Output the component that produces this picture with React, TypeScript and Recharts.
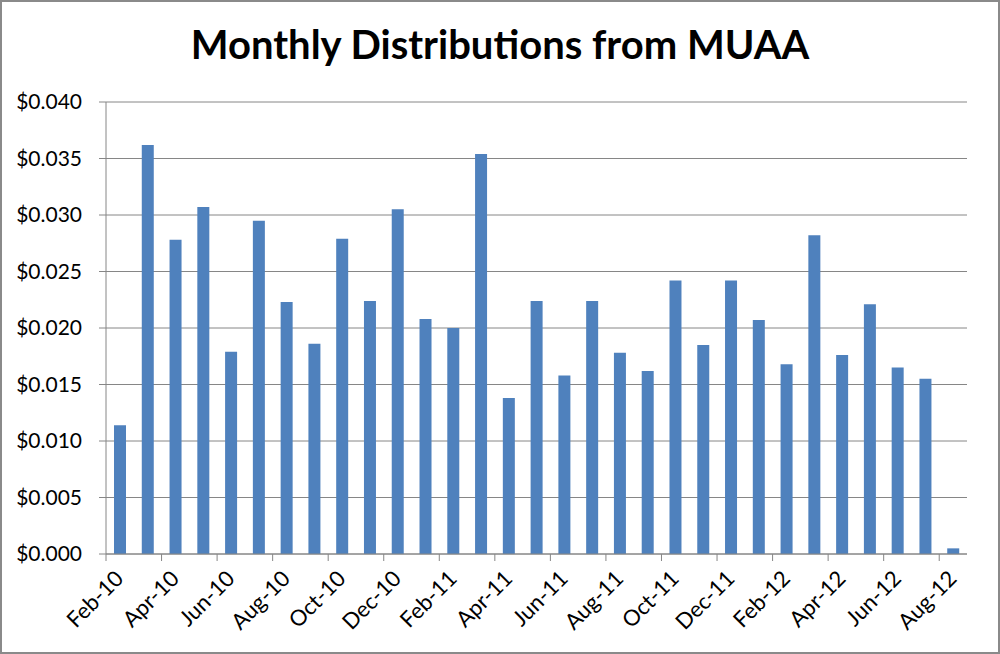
import React from 'react';
import { BarChart, Bar, XAxis, YAxis, CartesianGrid } from 'recharts';

const months = [
  'Feb-10', 'Mar-10', 'Apr-10', 'May-10', 'Jun-10', 'Jul-10', 'Aug-10', 'Sep-10', 'Oct-10', 'Nov-10', 'Dec-10',
  'Jan-11', 'Feb-11', 'Mar-11', 'Apr-11', 'May-11', 'Jun-11', 'Jul-11', 'Aug-11', 'Sep-11', 'Oct-11', 'Nov-11', 'Dec-11',
  'Jan-12', 'Feb-12', 'Mar-12', 'Apr-12', 'May-12', 'Jun-12', 'Jul-12', 'Aug-12',
];

const distributions = [
  0.0114, 0.0362, 0.0278, 0.0307, 0.0179, 0.0295, 0.0223, 0.0186, 0.0279, 0.0224, 0.0305,
  0.0208, 0.0200, 0.0354, 0.0138, 0.0224, 0.0158, 0.0224, 0.0178, 0.0162, 0.0242, 0.0185, 0.0242,
  0.0207, 0.0168, 0.0282, 0.0176, 0.0221, 0.0165, 0.0155, 0.0005,
];

const yTicks = [0, 0.005, 0.01, 0.015, 0.02, 0.025, 0.03, 0.035, 0.04];

const data = months.map((month, i) => ({ month, value: distributions[i] }));

const W = 1000;
const H = 654;
const margin = { top: 102, right: 33, left: 0, bottom: 0 };
const Y_AXIS_W = 106;
const plotW = W - Y_AXIS_W - margin.right;
const band = plotW / months.length;

const FONT = 'Lato, "Open Sans", sans-serif';
const GRID = '#868686';

const MonthTick = (props: any) => {
  const { x, y, payload } = props;
  const tx = x + 5;
  const ty = y + 26;
  return (
    <g>
      <line x1={x - band / 2} x2={x - band / 2} y1={y} y2={y + 7} stroke={GRID} />
      <text
        x={tx}
        y={ty}
        textAnchor="end"
        transform={`rotate(-45, ${tx}, ${ty})`}
        fontSize={22}
        fill="#000"
        fontFamily={FONT}
      >
        {payload.value}
      </text>
    </g>
  );
};

export default function App() {
  return (
    <div style={{ position: 'absolute', left: 0, top: 0, width: W, height: H, background: '#fff' }}>
      <div
        style={{
          position: 'absolute',
          left: 0,
          top: 0,
          width: W,
          height: H,
          boxSizing: 'border-box',
          border: '2px solid #8a8a8a',
          pointerEvents: 'none',
          zIndex: 2,
        }}
      />
      <div
        style={{
          position: 'absolute',
          top: 20,
          width: W,
          textAlign: 'center',
          fontFamily: FONT,
          fontWeight: 700,
          fontSize: 40,
          color: '#000',
        }}
      >
        Monthly Distributions from MUAA
      </div>
      <BarChart width={W} height={H} data={data} margin={margin}>
        <CartesianGrid vertical={false} stroke={GRID} />
        <XAxis
          dataKey="month"
          interval={1}
          height={100}
          tickSize={0}
          tickMargin={0}
          tickLine={false}
          axisLine={{ stroke: GRID }}
          tick={<MonthTick />}
        />
        <YAxis
          width={Y_AXIS_W}
          domain={[0, 0.04]}
          ticks={yTicks}
          interval={0}
          tickSize={7}
          tickMargin={17}
          tickLine={{ stroke: GRID }}
          axisLine={{ stroke: GRID }}
          tick={{ fontSize: 21, fill: '#000', fontFamily: FONT }}
          tickFormatter={(v: number) => '$' + v.toFixed(3)}
        />
        <Bar dataKey="value" fill="#4F81BD" barSize={12} isAnimationActive={false} />
      </BarChart>
    </div>
  );
}
